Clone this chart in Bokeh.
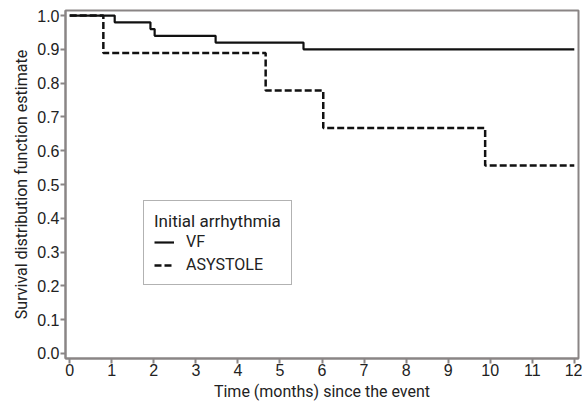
from bokeh.plotting import figure
from bokeh.models import Range1d, FixedTicker, Legend, LegendItem
from bokeh.embed import file_html
from bokeh.resources import INLINE

# Kaplan-Meier estimates
vf_time = [0, 1.07, 1.92, 2.02, 3.47, 5.56, 12]
vf_surv = [1.0, 0.98, 0.96, 0.94, 0.92, 0.90, 0.90]
asy_time = [0, 0.8, 4.66, 6.03, 9.88, 12]
asy_surv = [1.0, 0.889, 0.778, 0.667, 0.556, 0.556]
x_ticks = list(range(0, 13))
y_ticks = [round(i * 0.1, 1) for i in range(11)]

FONT = "Liberation Sans"
TITLE_FONT = "Roboto"

p = figure(width=582, height=403, output_backend="svg", toolbar_location=None,
           x_range=Range1d(-0.1, 12.1), y_range=Range1d(-0.015, 1.015),
           min_border_left=65, min_border_right=4, min_border_top=10, min_border_bottom=44)
p.background_fill_color = "white"
p.border_fill_color = "white"
p.outline_line_color = "#8a8585"
p.outline_line_width = 2
p.grid.visible = False

r_vf = p.step(vf_time, vf_surv, mode="after", line_color="#111111", line_width=2.2)
r_as = p.step(asy_time, asy_surv, mode="after", line_color="#111111", line_width=2.5,
              line_dash="7 3")

for ax in (p.xaxis[0], p.yaxis[0]):
    ax.axis_line_color = "#8a8585"
    ax.axis_line_width = 2
    ax.major_tick_line_color = "#8a8585"
    ax.major_tick_line_width = 2
    ax.major_tick_in = 0
    ax.major_tick_out = 5
    ax.minor_tick_line_color = None
    ax.major_label_text_font = FONT
    ax.major_label_text_font_size = "16px"
    ax.major_label_text_color = "#222222"
    ax.axis_label_text_font = TITLE_FONT
    ax.axis_label_text_font_size = "16px"
    ax.axis_label_text_font_style = "normal"
    ax.axis_label_text_color = "#222222"

p.xaxis.ticker = FixedTicker(ticks=x_ticks)
p.yaxis.ticker = FixedTicker(ticks=y_ticks)
p.yaxis.major_label_overrides = {t: f"{t:.1f}" for t in y_ticks}
p.xaxis.major_label_standoff = 0
p.yaxis.major_label_standoff = 1
p.xaxis.axis_label = "Time (months) since the event"
p.yaxis.axis_label = "Survival distribution function estimate"
p.xaxis.axis_label_standoff = 3
p.yaxis.axis_label_standoff = 3

legend = Legend(items=[LegendItem(label="VF", renderers=[r_vf]),
                       LegendItem(label="ASYSTOLE", renderers=[r_as])],
                title="Initial arrhythmia", location=(78, 73))
legend.title_text_font = TITLE_FONT
legend.title_text_font_size = "17px"
legend.title_text_font_style = "normal"
legend.title_text_color = "#222222"
legend.label_text_font = TITLE_FONT
legend.label_text_font_size = "16px"
legend.label_text_color = "#222222"
legend.border_line_color = "#666666"
legend.border_line_width = 1
legend.glyph_width = 20
legend.glyph_height = 16
legend.label_standoff = 12
legend.spacing = 4
legend.padding = 10
legend.margin = 0
legend.title_standoff = 1
legend.label_height = 18
p.add_layout(legend, "center")

open("out.html", "w").write(file_html(p, INLINE))
